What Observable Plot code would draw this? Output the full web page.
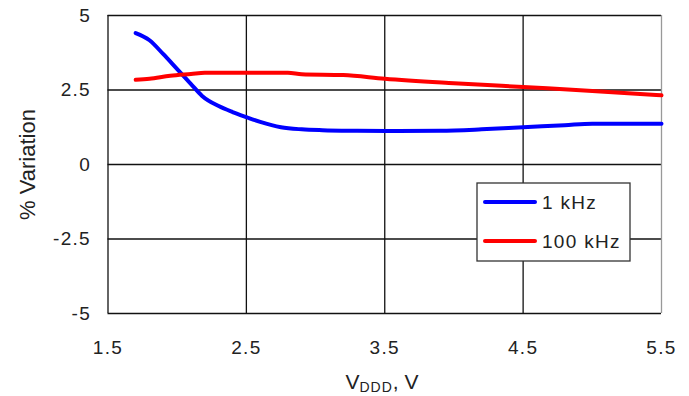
<!DOCTYPE html>
<html>
<head>
<meta charset="utf-8">
<script src="https://cdn.jsdelivr.net/npm/d3@7"></script>
<script src="https://cdn.jsdelivr.net/npm/@observablehq/plot@0.6"></script>
<style>
  html, body { margin: 0; padding: 0; background: #fff; }
  svg { display: block; }
</style>
</head>
<body>
<div id="chart"></div>
<script>
// ---- data ----
const xTicks = [1.5, 2.5, 3.5, 4.5, 5.5];
const yTicks = [-5, -2.5, 0, 2.5, 5];

const vdd1k = [1.7, 1.8, 1.9, 2.0, 2.1, 2.18, 2.3, 2.4, 2.5, 2.6, 2.75, 2.9, 3.05, 3.3, 3.6, 3.9, 4.2, 4.5, 4.8, 5.0, 5.5];
const var1k = [4.41, 4.17, 3.7, 3.2, 2.7, 2.3, 1.96, 1.76, 1.59, 1.43, 1.25, 1.18, 1.15, 1.13, 1.12, 1.13, 1.18, 1.25, 1.32, 1.37, 1.37];

const vdd100k = [1.7, 1.8, 1.95, 2.1, 2.2, 2.5, 2.8, 2.9, 3.2, 3.5, 4.0, 4.5, 5.0, 5.5];
const var100k = [2.84, 2.88, 2.98, 3.04, 3.08, 3.08, 3.08, 3.03, 3.0, 2.88, 2.73, 2.6, 2.47, 2.32];

const seriesNames = ["1 kHz", "100 kHz"];
const seriesColors = ["#0000ff", "#ff0000"];

const rows = [
  ...vdd1k.map((x, i) => ({x, y: var1k[i], s: seriesNames[0]})),
  ...vdd100k.map((x, i) => ({x, y: var100k[i], s: seriesNames[1]}))
];

const W = 689, H = 396;
const mL = 107.5, mR = 28, mT = 15, mB = 83;
const font = "'Liberation Sans', Arial, sans-serif";

const plot = Plot.plot({
  width: W, height: H,
  marginLeft: mL, marginRight: mR, marginTop: mT, marginBottom: mB,
  style: {fontFamily: font, background: "#fff", overflow: "visible"},
  x: {domain: [1.5, 5.5]},
  y: {domain: [-5, 5]},
  color: {domain: seriesNames, range: seriesColors},
  marks: [
    Plot.ruleY(yTicks, {stroke: "#111", strokeWidth: 1.3}),
    Plot.ruleX(xTicks, {stroke: d => d === 5.5 ? "#999" : "#111", strokeWidth: 1.3}),
    Plot.axisX({ticks: xTicks, tickSize: 0, tickPadding: 27, fontSize: 19, label: null,
      tickFormat: d => d.toFixed(1), fill: "#222"}),
    Plot.axisY({ticks: yTicks, tickSize: 0, tickPadding: 17, fontSize: 19, label: null,
      tickFormat: d => String(d), fill: "#222"}),
    Plot.line(rows, {x: "x", y: "y", z: "s", stroke: "s", strokeWidth: 4, curve: "monotone-x"}),
    Plot.text(["% Variation"], {frameAnchor: "left", textAnchor: "middle", dx: -80, rotate: -90, fontSize: 22, fill: "#222"})
  ]
});

document.getElementById("chart").appendChild(plot);

const svg = d3.select(plot);
svg.selectAll("[aria-label='x-axis tick label'] text, [aria-label='y-axis tick label'] text")
  .style("letter-spacing", "1.3px");

// x-axis title with subscript
const xt = svg.append("text")
  .attr("x", 382).attr("y", 389)
  .attr("text-anchor", "middle")
  .attr("font-family", font).attr("font-size", 21).attr("fill", "#222");
xt.append("tspan").text("V");
xt.append("tspan").attr("font-size", 14).attr("dy", 3).style("letter-spacing", "1px").text("DDD");
xt.append("tspan").attr("dy", -3).text(", V");

// legend
const lg = svg.append("g").attr("font-family", font).attr("text-anchor", "start");
lg.append("rect").attr("x", 477).attr("y", 183).attr("width", 153).attr("height", 78)
  .attr("fill", "#fff").attr("stroke", "#333").attr("stroke-width", 1.3);
seriesNames.forEach((name, i) => {
  const y = 202 + i * 39;
  lg.append("line").attr("x1", 485).attr("x2", 535).attr("y1", y).attr("y2", y)
    .attr("stroke", seriesColors[i]).attr("stroke-width", 4).attr("stroke-linecap", "round");
  lg.append("text").attr("x", 542).attr("y", y).attr("dy", "0.35em").attr("text-anchor", "start")
    .attr("font-size", 19).attr("fill", "#222").style("letter-spacing", "1.3px").text(name);
});
</script>
</body>
</html>
